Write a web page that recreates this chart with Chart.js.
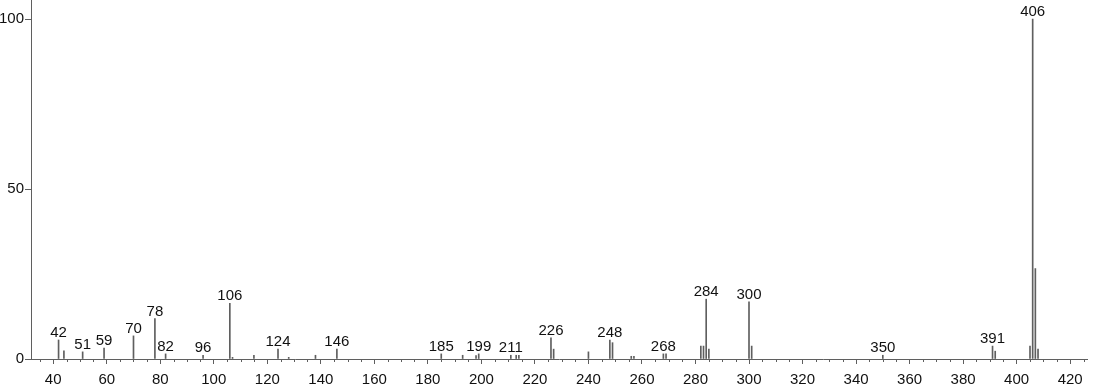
<!DOCTYPE html>
<html>
<head>
<meta charset="utf-8">
<script src="https://cdn.jsdelivr.net/npm/chart.js@4"></script>
<style>
  html, body { margin: 0; padding: 0; background: #fff; }
  #wrap { width: 1094px; height: 384px; position: relative; }
</style>
</head>
<body>
<div id="wrap"><canvas id="spectrum"></canvas></div>
<script>
// m/z of each peak and its relative intensity (%)
const mz = [42, 44, 51, 59, 70, 78, 82, 96, 106, 107, 115, 124, 128, 138, 146,
            185, 193, 198, 199, 211, 213, 214, 226, 227, 240, 248, 249, 256, 257,
            268, 269, 282, 283, 284, 285, 300, 301, 350, 391, 392, 405, 406, 407, 408];
const intensity = [5.6, 2.4, 2.1, 3.2, 6.8, 11.9, 1.5, 1.1, 16.4, 0.5, 1.1, 2.9, 0.5, 1.1, 2.9,
                   1.5, 1.1, 1.0, 1.5, 1.1, 1.1, 1.1, 6.2, 2.9, 2.1, 5.6, 4.8, 0.8, 0.8,
                   1.5, 1.5, 3.8, 3.8, 17.6, 2.9, 16.8, 3.8, 1.1, 3.8, 2.3, 3.8, 100, 26.6, 2.9];
// peaks that get their m/z written above them
const labeledPeaks = [42, 51, 59, 70, 78, 82, 96, 106, 124, 146, 185, 199, 211,
                      226, 248, 268, 284, 300, 350, 391, 406];

const xMin = 31.7, xMax = 426.3;
const yMin = 0, yMax = 105.6;
const xMajorStep = 20, xMinorStep = 5;
const yStep = 50;

const lineColor = '#5f5f5f';
const textColor = '#111';
const font = { family: '"Liberation Sans", Arial, sans-serif', size: 15 };

const minorTicks = {
    id: 'minorTicks',
    afterDraw(chart) {
        const x = chart.scales.x;
        const ctx = chart.ctx;
        const y0 = x.top;
        ctx.save();
        ctx.strokeStyle = lineColor;
        ctx.lineWidth = 1;
        ctx.beginPath();
        for (let v = Math.ceil(xMin / xMinorStep) * xMinorStep; v <= xMax; v += xMinorStep) {
            if (v % xMajorStep === 0) continue;
            const px = Math.round(x.getPixelForValue(v)) + 0.5;
            ctx.moveTo(px, y0);
            ctx.lineTo(px, y0 + 3);
        }
        ctx.stroke();
        ctx.restore();
    }
};

const peakLabels = {
    id: 'peakLabels',
    afterDatasetsDraw(chart) {
        const ctx = chart.ctx;
        const x = chart.scales.x, y = chart.scales.y;
        ctx.save();
        ctx.fillStyle = textColor;
        ctx.font = font.size + 'px ' + font.family;
        ctx.textAlign = 'center';
        ctx.textBaseline = 'alphabetic';
        labeledPeaks.forEach(m => {
            const val = intensity[mz.indexOf(m)];
            ctx.fillText(String(m), x.getPixelForValue(m), y.getPixelForValue(val) - 3);
        });
        ctx.restore();
    }
};

const points = mz.map((m, i) => ({ x: m, y: intensity[i] }));

new Chart('spectrum', {
    type: 'bar',
    data: {
        datasets: [{
            data: points,
            backgroundColor: lineColor,
            borderWidth: 0,
            barThickness: 1
        }]
    },
    options: {
        responsive: true,
        maintainAspectRatio: false,
        animation: false,
        layout: { padding: { left: 0, right: 7, top: 0, bottom: 0 } },
        plugins: {
            legend: { display: false },
            tooltip: { enabled: false }
        },
        scales: {
            x: {
                type: 'linear',
                min: xMin,
                max: xMax,
                offset: false,
                grid: { offset: false, drawOnChartArea: false, tickLength: 5, color: lineColor },
                border: { color: lineColor },
                ticks: {
                    stepSize: xMajorStep,
                    includeBounds: false,
                    autoSkip: false,
                    maxRotation: 0,
                    padding: 7,
                    color: textColor,
                    font: font
                },
                afterFit(scale) {
                    scale.height = 25;
                    scale.paddingLeft = 0;
                    scale.paddingRight = 0;
                }
            },
            y: {
                min: yMin,
                max: yMax,
                grid: { drawOnChartArea: false, tickLength: 6, color: lineColor },
                border: { color: lineColor },
                ticks: {
                    stepSize: yStep,
                    includeBounds: false,
                    padding: 1,
                    color: textColor,
                    font: font
                },
                afterFit(scale) {
                    scale.width = 31;
                    scale.paddingTop = 0;
                    scale.paddingBottom = 0;
                }
            }
        }
    },
    plugins: [minorTicks, peakLabels]
});
</script>
</body>
</html>
